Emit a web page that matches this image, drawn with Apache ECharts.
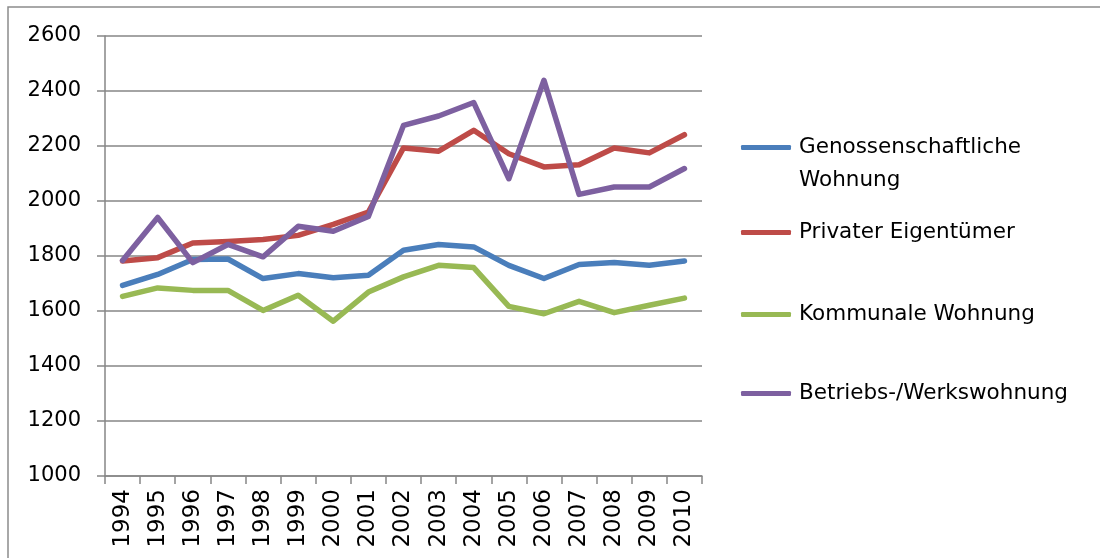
<!DOCTYPE html>
<html>
<head>
<meta charset="utf-8">
<script src="https://cdn.jsdelivr.net/npm/echarts@6/dist/echarts.min.js"></script>
<style>
  html, body { margin: 0; padding: 0; background: #fff; }
  #chart { width: 1100px; height: 558px; }
</style>
</head>
<body>
<div id="chart"></div>
<script>
// Jahre (Kategorien)
var years = ['1994','1995','1996','1997','1998','1999','2000','2001','2002','2003','2004','2005','2006','2007','2008','2009','2010'];

// Werte
var genossenschaft = [1693,1733,1787,1789,1718,1736,1721,1730,1821,1842,1833,1766,1718,1769,1776,1766,1782];
var privat         = [1782,1794,1847,1853,1860,1875,1915,1960,2193,2181,2257,2172,2124,2132,2193,2175,2241];
var kommunal       = [1653,1684,1675,1675,1602,1657,1563,1669,1724,1766,1758,1617,1590,1635,1594,1621,1647];
var betrieb        = [1784,1940,1776,1842,1797,1908,1890,1944,2275,2309,2358,2081,2439,2024,2051,2051,2118];

var names = ['Genossenschaftliche Wohnung','Privater Eigentümer','Kommunale Wohnung','Betriebs-/Werkswohnung'];
var colors = ['#4A7EBB','#BE4B48','#98B954','#7D60A0'];
var yTicks = { min: 1000, max: 2600, step: 200 };

var chart = echarts.init(document.getElementById('chart'));
var font = 'DejaVu Sans';

function mkSeries(name, data, color){
  return {
    name: name,
    type: 'line',
    data: data,
    symbol: 'none',
    lineStyle: { width: 5.5, color: color, cap: 'round', join: 'round' },
    itemStyle: { color: color },
    animation: false
  };
}

function mkLegend(name, top, formatter){
  return {
    data: [name],
    left: 736,
    top: top,
    icon: 'roundRect',
    itemWidth: 50,
    itemHeight: 5,
    selectedMode: false,
    formatter: formatter || function(n){ return '{t|' + n + '}'; },
    textStyle: {
      fontFamily: font, fontSize: 21.5, color: '#000', lineHeight: 33,
      rich: { t: { fontFamily: font, fontSize: 21.5, color: '#000', lineHeight: 33, padding: [0, 0, 0, 3] } }
    }
  };
}

var option = {
  backgroundColor: '#fff',
  animation: false,
  color: colors,
  graphic: [{
    type: 'rect',
    shape: { x: 8, y: 7, width: 1200, height: 700 },
    style: { fill: 'none', stroke: '#8c8c8c', lineWidth: 1.5 },
    silent: true
  }],
  legend: [
    // leere erste Zeile, damit "Genossenschaftliche" auf Höhe der Linie steht
    mkLegend(names[0], 93, function(n){
      var p = n.split(' ');
      return '\n{t|' + p[0] + '}\n{t|' + p[1] + '}';
    }),
    mkLegend(names[1], 211),
    mkLegend(names[2], 293),
    mkLegend(names[3], 372)
  ],
  grid: { left: 105, right: 398, top: 36, bottom: 82, containLabel: false },
  xAxis: {
    type: 'category',
    data: years,
    boundaryGap: true,
    axisLine: { lineStyle: { color: '#868686', width: 1.5 } },
    axisTick: { show: true, inside: false, length: 8, lineStyle: { color: '#868686', width: 1.5 } },
    axisLabel: { rotate: 90, margin: 13, fontFamily: font, fontSize: 23, color: '#000', interval: 0 },
    splitLine: { show: false }
  },
  yAxis: {
    type: 'value',
    min: yTicks.min,
    max: yTicks.max,
    interval: yTicks.step,
    axisLine: { show: true, lineStyle: { color: '#868686', width: 1.5 } },
    axisTick: { show: true, inside: false, length: 8, lineStyle: { color: '#868686', width: 1.5 } },
    axisLabel: { margin: 24, fontFamily: font, fontSize: 21, color: '#000', formatter: function(v){ return String(v); } },
    splitLine: { show: true, lineStyle: { color: '#868686', width: 1.5 } }
  },
  series: [
    mkSeries(names[0], genossenschaft, colors[0]),
    mkSeries(names[1], privat, colors[1]),
    mkSeries(names[2], kommunal, colors[2]),
    mkSeries(names[3], betrieb, colors[3])
  ]
};

chart.setOption(option);
</script>
</body>
</html>
